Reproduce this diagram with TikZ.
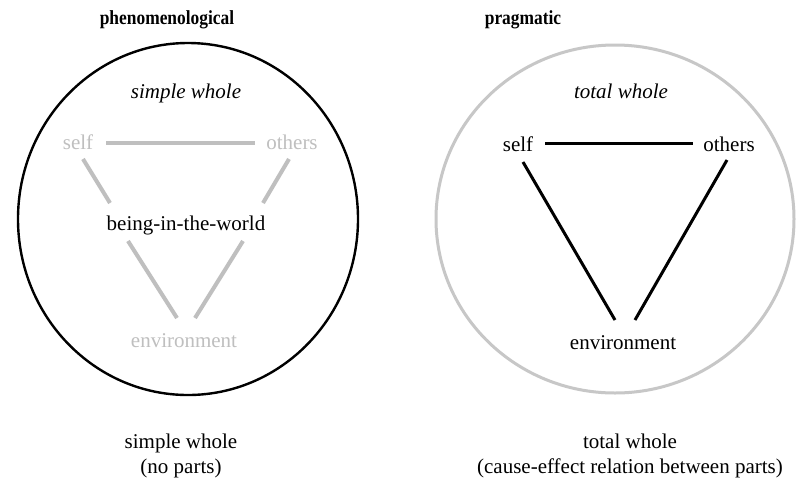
\documentclass[tikz,border=0pt]{standalone}
\usepackage{fontspec}
\setmainfont{Liberation Serif}
\newfontfamily\titlefont[FakeStretch=0.87]{Liberation Serif}
\begin{document}
\begin{tikzpicture}[x=1pt,y=-1pt,
  txt/.style={font=\fontsize{21}{25}\selectfont, inner sep=0pt, anchor=base},
  ttl/.style={font=\titlefont\fontsize{20}{24}\selectfont\bfseries, inner sep=0pt, anchor=base},
  itl/.style={font=\fontsize{21}{25}\selectfont\itshape, inner sep=0pt, anchor=base},
  faint/.style={text=black!25},
  greyline/.style={draw=black!25, line width=4pt},
  blackline/.style={draw=black, line width=3pt},
  captiontxt/.style={font=\fontsize{21}{25}\selectfont, align=center, inner sep=0pt}]
\useasboundingbox (0,0) rectangle (798,483);
\fill[white] (0,0) rectangle (798,483);
% left
\node[ttl] (t1) at (167,24) {phenomenological};
\draw[line width=2.4pt, black] (188,219) ellipse [x radius=170, y radius=176];
\node[itl] (sw) at (186,98) {simple whole};
\node[txt,faint] (s1) at (78,149) {self};
\node[txt,faint] (o1) at (292,149) {others};
\node[txt] (b1) at (186,230) {being-in-the-world};
\node[txt,faint] (e1) at (184,347) {environment};
\coordinate (a1) at (106,143); \coordinate (a2) at (255,143);
\coordinate (l1) at (83,159); \coordinate (l2) at (110,203);
\coordinate (r1) at (289,159); \coordinate (r2) at (263,203);
\coordinate (l3) at (128,241); \coordinate (l4) at (177,318);
\coordinate (r3) at (243,241); \coordinate (r4) at (195,318);
\draw[greyline] (a1) -- (a2);
\draw[greyline] (l1) -- (l2);
\draw[greyline] (r1) -- (r2);
\draw[greyline] (l3) -- (l4);
\draw[greyline] (r3) -- (r4);
\node[captiontxt] (c1) at (181,456) {simple whole\\(no parts)};
% right
\node[ttl] (t2) at (523,24) {pragmatic};
\draw[line width=3pt, black!22] (615,219) ellipse [x radius=179, y radius=174];
\node[itl] (tw) at (621,98) {total whole};
\node[txt] (s2) at (518,151) {self};
\node[txt] (o2) at (729,151) {others};
\node[txt] (e2) at (623,349) {environment};
\coordinate (b1s) at (545,143); \coordinate (b1e) at (693,143);
\coordinate (b2s) at (523,162); \coordinate (b2e) at (615,320);
\coordinate (b3s) at (727,160); \coordinate (b3e) at (635,320);
\draw[blackline] (b1s) -- (b1e);
\draw[blackline] (b2s) -- (b2e);
\draw[blackline] (b3s) -- (b3e);
\node[captiontxt] (c2) at (630,456) {total whole\\(cause-effect relation between parts)};
\end{tikzpicture}
\end{document}
